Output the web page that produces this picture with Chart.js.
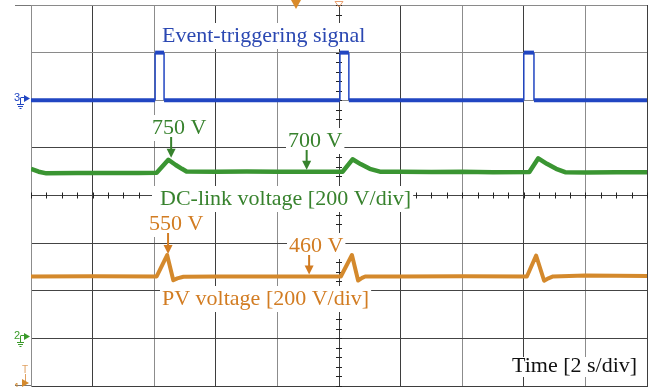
<!DOCTYPE html>
<html>
<head>
<meta charset="utf-8">
<script src="https://cdn.jsdelivr.net/npm/chart.js@4/dist/chart.umd.min.js"></script>
<style>
  html, body { margin: 0; padding: 0; background: #fff; }
  canvas { display: block; }
</style>
</head>
<body>
<canvas id="scope" width="650" height="387"></canvas>
<script>
// Horizontal time base: 10 divisions at 2 s/div
const timeTicks = [0, 2, 4, 6, 8, 10, 12, 14, 16, 18, 20];
// Vertical screen divisions
const divTicks = [-4, -3, -2, -1, 0, 1, 2, 3, 4];

// CH3: event-triggering signal (logic level)
const triggerTime  = [0, 4.03, 4.03, 4.32, 4.32, 10.03, 10.03, 10.32, 10.32, 16.0, 16.0, 16.33, 16.33, 20];
const triggerLevel = [0, 0,    1,    1,    0,    0,     1,     1,     0,     0,    1,    1,     0,     0];

// CH2: DC-link voltage [V]
const dcTime = [0, 0.25, 0.5, 1.5, 2.5, 3.5, 4.08, 4.46, 4.7, 4.9, 5.05, 6, 7, 8, 9,
                10.12, 10.44, 10.7, 11.0, 11.33, 12, 13, 14, 15, 16.18, 16.47, 16.75, 17.05, 17.34, 18, 19, 20];
const dcVolt = [712, 700, 693, 694, 694, 695, 696, 750, 728, 712, 701, 700, 701, 700, 700,
                700, 752, 732, 712, 700, 700, 699, 700, 698, 699, 756, 733, 712, 698, 697, 698, 698];

// CH1: PV voltage [V]
const pvTime = [0, 2, 4.08, 4.42, 4.62, 4.75, 4.95, 6, 8, 10.06, 10.42, 10.62, 10.75, 10.85, 12, 14,
                16.1, 16.4, 16.66, 16.8, 16.95, 18, 19, 20];
const pvVolt = [460, 461, 460, 550, 444, 452, 459, 460, 460, 460, 550, 443, 454, 460, 460, 461,
                460, 548, 442, 452, 460, 464, 463, 462];

// Annotated values
const dcPeak = 750, dcSteady = 700, pvPeak = 550, pvSteady = 460;

// Channel placement on screen: ground offset [div] and scale [unit/div]
const CH3 = { ground: 2,  perDiv: 1 };
const CH2 = { ground: -3, perDiv: 200 };
const CH1 = { ground: -4, perDiv: 200 };
const toDiv = (ch, v) => ch.ground + v / ch.perDiv;

const BLUE = '#2146c2', BLUE_TXT = '#2b48b2';
const GREEN = '#3a9532', GREEN_TXT = '#37822d';
const ORANGE = '#d4892c', ORANGE_TXT = '#d27c22';

const pts = (xs, ys, ch) => xs.map((t, i) => ({ x: t, y: toDiv(ch, ys[i]) }));

const scopeDecor = {
  id: 'scopeDecor',
  beforeDatasetsDraw(chart) {
    const { ctx, chartArea: a, scales: { x, y } } = chart;
    const cx = x.getPixelForValue(10), cy = y.getPixelForValue(0);
    ctx.save();
    ctx.strokeStyle = '#222';
    ctx.lineWidth = 1;
    ctx.beginPath();
    // minor ticks on the centre graticule
    for (let v = -4; v <= 4.001; v += 0.2) {
      const py = Math.round(y.getPixelForValue(v)) + 0.5;
      ctx.moveTo(cx - 3, py); ctx.lineTo(cx + 3, py);
    }
    for (let t = 0; t <= 20.001; t += 0.5) {
      const px = Math.round(x.getPixelForValue(t)) + 0.5;
      ctx.moveTo(px, cy - 3); ctx.lineTo(px, cy + 3);
    }
    ctx.stroke();
    // frame extensions at top and bottom
    ctx.strokeStyle = '#777';
    ctx.beginPath();
    ctx.moveTo(15, Math.round(a.top) + 0.5); ctx.lineTo(a.left, Math.round(a.top) + 0.5);
    ctx.moveTo(15, Math.round(a.bottom) - 0.5); ctx.lineTo(a.left, Math.round(a.bottom) - 0.5);
    ctx.stroke();
    ctx.restore();
  },
  afterDraw(chart, args, opts) {
    const { ctx, scales: { x, y } } = chart;
    ctx.save();
    ctx.font = '22px "Liberation Serif", "Times New Roman", serif';
    ctx.textBaseline = 'alphabetic';
    for (const l of opts.labels) {
      const w = ctx.measureText(l.text).width;
      const up = l.tight ? 15 : 19, down = l.tight ? 5 : 7;
      const padL = l.padL ?? 2, padR = l.padR ?? 2;
      ctx.fillStyle = '#fff';
      ctx.fillRect(l.x - padL, l.y - up, w + padL + padR, up + down);
      ctx.fillStyle = l.color;
      ctx.fillText(l.text, l.x, l.y);
    }
    for (const ar of opts.arrows) {
      const px = x.getPixelForValue(ar.t);
      const tip = y.getPixelForValue(toDiv(ar.ch, ar.v)) - ar.gap;
      ctx.strokeStyle = ar.color; ctx.fillStyle = ar.color;
      ctx.lineWidth = 2;
      ctx.beginPath(); ctx.moveTo(px, ar.from); ctx.lineTo(px, tip - 7); ctx.stroke();
      ctx.beginPath();
      ctx.moveTo(px - 4.5, tip - 9); ctx.lineTo(px + 4.5, tip - 9); ctx.lineTo(px, tip);
      ctx.closePath(); ctx.fill();
    }
    // channel ground markers on the left edge
    const marker = (label, ch, color) => {
      const py = Math.round(y.getPixelForValue(ch.ground));
      ctx.fillStyle = color; ctx.strokeStyle = color; ctx.lineWidth = 1;
      ctx.font = '11px "Liberation Sans", Arial, sans-serif';
      ctx.fillText(label, 14, py + 1);
      ctx.beginPath();
      ctx.moveTo(20.5, py - 2); ctx.lineTo(20.5, py + 4);
      ctx.moveTo(20.5, py - 2.5); ctx.lineTo(25, py - 2.5);
      ctx.moveTo(17, py + 4.5); ctx.lineTo(24, py + 4.5);
      ctx.moveTo(18, py + 6.5); ctx.lineTo(23, py + 6.5);
      ctx.moveTo(19.5, py + 8.5); ctx.lineTo(21.5, py + 8.5);
      ctx.stroke();
      ctx.beginPath();
      ctx.moveTo(24, py - 5); ctx.lineTo(24, py + 2); ctx.lineTo(30, py - 1.5);
      ctx.closePath(); ctx.fill();
    };
    marker('3', CH3, BLUE);
    marker('2', CH2, '#3a9a2a');
    // CH1 sits on the bottom edge, with trigger level mark above it
    ctx.fillStyle = '#e0a060'; ctx.strokeStyle = '#e0a060';
    ctx.font = '10px "Liberation Sans", Arial, sans-serif';
    ctx.fillText('T', 22, 373);
    ctx.beginPath(); ctx.moveTo(25.5, 374); ctx.lineTo(25.5, 383); ctx.stroke();
    ctx.fillStyle = ORANGE;
    ctx.fillText('1', 14, 391);
    ctx.beginPath(); ctx.moveTo(22, 379); ctx.lineTo(22, 387); ctx.lineTo(29, 383); ctx.closePath(); ctx.fill();
    // trigger position markers at the top
    ctx.fillStyle = '#d98a2a';
    ctx.beginPath(); ctx.moveTo(291, 0); ctx.lineTo(301, 0); ctx.lineTo(296, 9); ctx.closePath(); ctx.fill();
    ctx.strokeStyle = '#e8a070'; ctx.lineWidth = 1;
    ctx.beginPath(); ctx.moveTo(335, 1.5); ctx.lineTo(343, 1.5); ctx.lineTo(339, 7); ctx.closePath(); ctx.stroke();
    ctx.restore();
  }
};

const vertical = (c) => c.p0.parsed.x === c.p1.parsed.x;

const xShade = (c) => ([1, 3, 5, 6, 8, 10].includes(c.index) ? '#3e3e3e' : '#8c8c8c');
const yShade = (c) => (c.index >= 6 ? '#8a8a8a' : '#444');

new Chart(document.getElementById('scope'), {
  type: 'line',
  data: {
    datasets: [
      {
        label: 'Event-triggering signal',
        data: pts(triggerTime, triggerLevel, CH3),
        borderColor: BLUE, borderWidth: 4, pointRadius: 0, tension: 0,
        borderCapStyle: 'butt', borderJoinStyle: 'miter',
        segment: { borderWidth: (c) => (vertical(c) ? 1.5 : 4) }
      },
      {
        label: 'DC-link voltage',
        data: pts(dcTime, dcVolt, CH2),
        borderColor: GREEN, borderWidth: 4.5, pointRadius: 0, tension: 0,
        borderJoinStyle: 'round'
      },
      {
        label: 'PV voltage',
        data: pts(pvTime, pvVolt, CH1),
        borderColor: ORANGE, borderWidth: 4, pointRadius: 0, tension: 0,
        borderJoinStyle: 'round'
      }
    ]
  },
  options: {
    responsive: false,
    animation: false,
    devicePixelRatio: 1,
    layout: { padding: { left: 31, top: 5, right: 3, bottom: 1 } },
    plugins: {
      legend: { display: false },
      tooltip: { enabled: false },
      scopeDecor: {
        labels: [
          { text: 'Event-triggering signal', color: BLUE_TXT, x: 162, y: 42 },
          { text: dcPeak + ' V', color: GREEN_TXT, x: 152, y: 134 },
          { text: dcSteady + ' V', color: GREEN_TXT, x: 288, y: 147 },
          { text: 'DC-link voltage [200 V/div]', color: GREEN_TXT, x: 160, y: 205, padL: 8 },
          { text: pvPeak + ' V', color: ORANGE_TXT, x: 149, y: 230, padL: 3 },
          { text: pvSteady + ' V', color: ORANGE_TXT, x: 289, y: 252 },
          { text: 'PV voltage [200 V/div]', color: ORANGE_TXT, x: 162, y: 305 },
          { text: 'Time [2 s/div]', color: '#111', x: 512, y: 372, tight: true }
        ],
        arrows: [
          { t: 4.55, v: dcPeak, ch: CH2, gap: 2, from: 137, color: GREEN_TXT },
          { t: 8.95, v: dcSteady, ch: CH2, gap: 2, from: 150, color: GREEN_TXT },
          { t: 4.45, v: pvPeak, ch: CH1, gap: 1, from: 233, color: ORANGE_TXT },
          { t: 9.03, v: pvSteady, ch: CH1, gap: 2, from: 255, color: ORANGE_TXT }
        ]
      }
    },
    scales: {
      x: {
        type: 'linear', min: 0, max: 20,
        afterBuildTicks: (s) => { s.ticks = timeTicks.map((v) => ({ value: v })); },
        ticks: { display: false },
        grid: { color: xShade, lineWidth: 1, drawTicks: false },
        border: { display: true, color: '#3e3e3e' }
      },
      y: {
        type: 'linear', min: -4, max: 4,
        afterBuildTicks: (s) => { s.ticks = divTicks.map((v) => ({ value: v })); },
        ticks: { display: false },
        grid: { color: yShade, lineWidth: 1, drawTicks: false },
        border: { display: true, color: '#8c8c8c' }
      }
    }
  },
  plugins: [scopeDecor]
});
</script>
</body>
</html>
